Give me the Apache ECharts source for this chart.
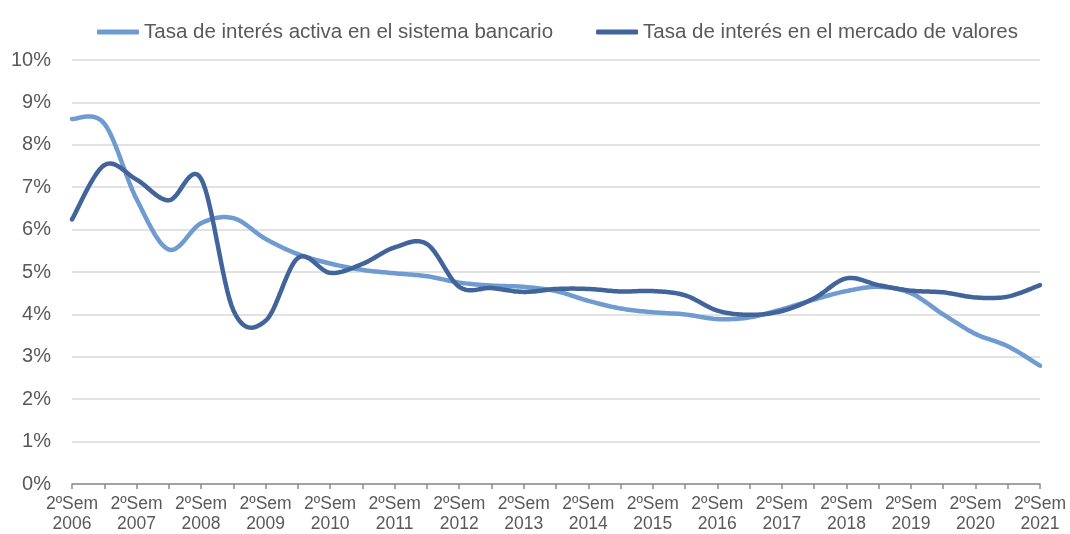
<!DOCTYPE html>
<html>
<head>
<meta charset="utf-8">
<script src="https://cdn.jsdelivr.net/npm/echarts@6/dist/echarts.min.js"></script>
<style>
  html, body { margin: 0; padding: 0; background: #fff; }
  #chart { width: 1070px; height: 534px; }
</style>
</head>
<body>
<div id="chart"></div>
<script>
// semestres (solo se rotulan los 2º semestres)
var semestres = [
  '2ºSem 2006', '1ºSem 2007', '2ºSem 2007', '1ºSem 2008', '2ºSem 2008',
  '1ºSem 2009', '2ºSem 2009', '1ºSem 2010', '2ºSem 2010', '1ºSem 2011',
  '2ºSem 2011', '1ºSem 2012', '2ºSem 2012', '1ºSem 2013', '2ºSem 2013',
  '1ºSem 2014', '2ºSem 2014', '1ºSem 2015', '2ºSem 2015', '1ºSem 2016',
  '2ºSem 2016', '1ºSem 2017', '2ºSem 2017', '1ºSem 2018', '2ºSem 2018',
  '1ºSem 2019', '2ºSem 2019', '1ºSem 2020', '2ºSem 2020', '1ºSem 2021',
  '2ºSem 2021'
];

// tasa activa en el sistema bancario (%)
var tasaBancaria = [
  8.61, 8.50, 6.72, 5.53, 6.15, 6.27, 5.78, 5.42, 5.20, 5.05,
  4.97, 4.90, 4.75, 4.68, 4.65, 4.55, 4.32, 4.14, 4.05, 4.00,
  3.89, 3.93, 4.12, 4.35, 4.55, 4.65, 4.50, 4.00, 3.54, 3.25,
  2.79
];

// tasa en el mercado de valores (%)
var tasaMercado = [
  6.24, 7.52, 7.18, 6.69, 7.20, 4.10, 3.85, 5.33, 4.98, 5.19,
  5.58, 5.66, 4.65, 4.62, 4.53, 4.60, 4.60, 4.54, 4.55, 4.45,
  4.09, 3.99, 4.08, 4.38, 4.85, 4.69, 4.56, 4.52, 4.40, 4.42,
  4.69
];

var nombres = [
  'Tasa de interés activa en el sistema bancario',
  'Tasa de interés en el mercado de valores'
];
var colores = ['#6f9bd1', '#41659a'];

var chart = echarts.init(document.getElementById('chart'));
var fuente = '"Liberation Sans", Arial, sans-serif';

// curva suavizada tipo Excel (Catmull-Rom) sobre las coordenadas del eje
function curva(valores, color) {
  return function (params, api) {
    if (params.dataIndex !== 0) return null;
    var pts = [];
    for (var i = 0; i < valores.length; i++) {
      pts.push(api.coord([i, valores[i]]));
    }
    var out = [];
    var pasos = 16;
    for (var k = 0; k < pts.length - 1; k++) {
      var p0 = pts[Math.max(k - 1, 0)];
      var p1 = pts[k];
      var p2 = pts[k + 1];
      var p3 = pts[Math.min(k + 2, pts.length - 1)];
      var c1 = [p1[0] + (p2[0] - p0[0]) / 6, p1[1] + (p2[1] - p0[1]) / 6];
      var c2 = [p2[0] - (p3[0] - p1[0]) / 6, p2[1] - (p3[1] - p1[1]) / 6];
      for (var s = (k === 0 ? 0 : 1); s <= pasos; s++) {
        var t = s / pasos, u = 1 - t;
        out.push([
          u*u*u*p1[0] + 3*u*u*t*c1[0] + 3*u*t*t*c2[0] + t*t*t*p2[0],
          u*u*u*p1[1] + 3*u*u*t*c1[1] + 3*u*t*t*c2[1] + t*t*t*p2[1]
        ]);
      }
    }
    return {
      type: 'polyline',
      shape: { points: out },
      style: { fill: null, stroke: color, lineWidth: 4.5, lineCap: 'round', lineJoin: 'round' }
    };
  };
}

function puntos(valores) {
  return valores.map(function (v, i) { return [i, v]; });
}

var option = {
  backgroundColor: '#fff',
  animation: false,
  textStyle: { fontFamily: fuente },
  color: colores,
  legend: {
    top: 16,
    left: 92,
    itemWidth: 42,
    itemHeight: 5,
    itemGap: 43,
    icon: 'roundRect',
    textStyle: { color: '#595959', fontSize: 20.5, lineHeight: 22, padding: [0, 0, 0, 0] },
    data: nombres
  },
  grid: { left: 72, right: 30, top: 60, bottom: 48 },
  xAxis: {
    type: 'category',
    data: semestres,
    boundaryGap: false,
    axisLine: { lineStyle: { color: '#8c8c8c', width: 1.5 } },
    axisTick: { show: true, interval: 0, length: 5, lineStyle: { color: '#8c8c8c', width: 1.5 } },
    axisLabel: {
      interval: 1,
      color: '#595959',
      fontSize: 17.5,
      lineHeight: 20,
      margin: 10,
      formatter: function (v) { return v.replace(' ', '\n'); }
    },
    splitLine: { show: false }
  },
  yAxis: {
    type: 'value',
    min: 0,
    max: 10,
    interval: 1,
    axisLine: { show: false },
    axisTick: { show: false },
    axisLabel: { color: '#595959', fontSize: 20, margin: 21, formatter: '{value}%' },
    splitLine: { lineStyle: { color: '#d9d9d9', width: 1.5 } }
  },
  series: [
    {
      name: nombres[0],
      type: 'custom',
      data: puntos(tasaBancaria),
      itemStyle: { color: colores[0] },
      renderItem: curva(tasaBancaria, colores[0])
    },
    {
      name: nombres[1],
      type: 'custom',
      data: puntos(tasaMercado),
      itemStyle: { color: colores[1] },
      renderItem: curva(tasaMercado, colores[1])
    }
  ]
};

chart.setOption(option);
</script>
</body>
</html>
